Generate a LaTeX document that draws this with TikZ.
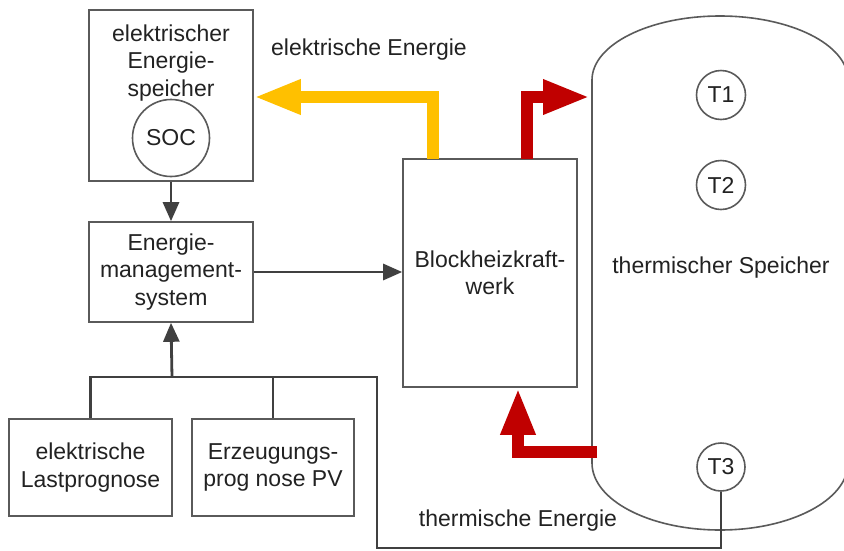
\documentclass[tikz,border=0pt]{standalone}
\usepackage{fontspec}
\setmainfont{Liberation Sans}
\usetikzlibrary{arrows.meta}
\definecolor{txt}{HTML}{222222}
\definecolor{boxc}{HTML}{5A5A5A}
\definecolor{conc}{HTML}{404040}
\definecolor{yel}{HTML}{FFC000}
\definecolor{redc}{HTML}{C00000}
\tikzset{
  lbl/.style={font=\fontsize{23}{27.5}\selectfont, text=txt, align=center, inner sep=0pt},
  blk/.style={draw=boxc, line width=1.6pt, rectangle, inner sep=0pt, fill=white,
              font=\fontsize{23}{27.5}\selectfont, text=txt, align=center},
  sens/.style={draw=boxc, line width=1.6pt, circle, inner sep=0pt, fill=white,
               font=\fontsize{23}{27.5}\selectfont, text=txt},
  conn/.style={draw=conc, line width=2.8pt},
  carrow/.style={conn, -{Triangle[length=19pt,width=16pt]}},
  fat/.style={line width=12pt, line join=miter, -{Triangle[length=47pt,width=32pt]}},
}
\begin{document}
\begin{tikzpicture}[x=1pt,y=-1pt]
\useasboundingbox (0,0) rectangle (844,550);
\fill[white] (0,0) rectangle (844,550);

% thermal storage tank
\begin{scope}
\clip (0,0) rectangle (844,550);
\draw[draw=boxc, line width=1.6pt] (592,80) -- (592,463)
  arc[start angle=180,end angle=0,x radius=128,y radius=67] -- (848,80)
  arc[start angle=0,end angle=-180,x radius=128,y radius=64] -- cycle;
\end{scope}
\node[lbl] (tslbl) at (721,268) {thermischer Speicher};
\node[sens, minimum size=49pt] (t1) at (721,95) {T1};
\node[sens, minimum size=49pt] (t2) at (721,185) {T2};
\node[sens, minimum size=48pt] (t3) at (721,467) {T3};

% blocks
\node[blk, minimum width=164pt, minimum height=171pt] (ees) at (171,95.5) {};
\node[lbl] (eeslbl) at (171,63) {elektrischer\\Energie-\\speicher};
\node[sens, minimum size=77pt] (soc) at (171,138) {SOC};
\node[blk, minimum width=164pt, minimum height=100pt] (ems) at (171,272) {Energie-\\management-\\system};
\node[blk, minimum width=174pt, minimum height=228pt] (bhkw) at (490,273) {Blockheizkraft-\\werk};
\node[blk, minimum width=163pt, minimum height=97pt] (lp) at (90.5,467.5) {elektrische\\Lastprognose};
\node[blk, minimum width=162pt, minimum height=97pt] (ez) at (273,467.5) {Erzeugungs-\\prog nose PV};

% labels
\node[lbl] (eelbl) at (369,50) {elektrische Energie};
\node[lbl] (telbl) at (518,521) {thermische Energie};

% connector coordinates
\coordinate (jn) at (172,377);
\coordinate (jl) at (90.5,377);
\coordinate (je) at (273,377);
\coordinate (jr) at (377,377);
\coordinate (jb) at (377,548);
\coordinate (jt) at (721,548);

% gray connectors
\draw[carrow] (ees.south) -- (ems.north);
\draw[carrow] (ems.east) -- (ems.east -| bhkw.west);
\draw[conn] (lp.north) -- (jl) -- (jr) -- (jb) -- (jt) -- (t3.south);
\draw[conn] (ez.north) -- (je);
\draw[carrow] (jn) -- (ems.south);

% energy flows
\coordinate (ya) at (433,159);
\coordinate (yb) at (433,97);
\coordinate (ra) at (527,159);
\coordinate (rb) at (527,97);
\coordinate (rc) at (597,452);
\coordinate (rd) at (518,452);
\draw[fat, yel] (ya) -- (yb) -- (ees.east |- yb);
\draw[fat, redc] (ra) -- (rb) -- (590,97);
\draw[fat, redc] (rc) -- (rd) -- (rd |- bhkw.south);
\end{tikzpicture}
\end{document}
